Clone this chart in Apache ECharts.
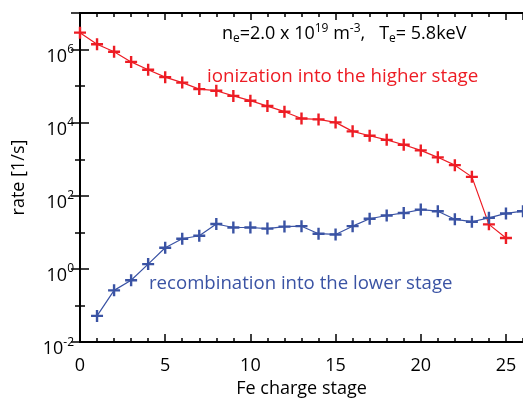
<!DOCTYPE html>
<html>
<head>
<meta charset="utf-8">
<script src="https://cdn.jsdelivr.net/npm/echarts@6/dist/echarts.min.js"></script>
<style>
  html, body { margin: 0; padding: 0; background: #fff; }
  #chart { width: 523px; height: 403px; }
</style>
</head>
<body>
<div id="chart"></div>
<script>
// Fe charge stages and rates [1/s]
const ionStages = [0, 1, 2, 3, 4, 5, 6, 7, 8, 9, 10, 11, 12, 13, 14, 15, 16, 17, 18, 19, 20, 21, 22, 23, 24, 25];
const ionizationRate = [2.9e6, 1.4e6, 8.7e5, 4.6e5, 2.8e5, 1.76e5, 1.25e5, 8.3e4, 7.5e4, 5.4e4,
  4.0e4, 2.85e4, 2.0e4, 1.3e4, 1.23e4, 1.02e4, 5.8e3, 4.4e3, 3.4e3, 2.5e3,
  1.75e3, 1.13e3, 690, 330, 16.6, 7.0];

const recStages = [1, 2, 3, 4, 5, 6, 7, 8, 9, 10, 11, 12, 13, 14, 15, 16, 17, 18, 19, 20, 21, 22, 23, 24, 25, 26];
const recombinationRate = [0.052, 0.26, 0.49, 1.36, 3.8, 6.7, 8.1, 17, 13.6, 13.6,
  12.7, 14.4, 14.8, 9.2, 8.8, 14.8, 23.6, 29, 34, 42,
  38, 22.8, 19.6, 25, 33, 38];

const xTickLabels = ['0', '5', '10', '15', '20', '25'];
const yTickExponents = [-2, 0, 2, 4, 6];

const RED = '#ED1C24';
const BLUE = '#3A53A4';
const FONT = '"Open Sans", sans-serif';
const PLUS = 'path://M4,0H6V4H10V6H6V10H4V6H0V4H4Z';

function pairs(xs, ys) { return xs.map((x, i) => [x, ys[i]]); }

const chart = echarts.init(document.getElementById('chart'), null, { renderer: 'canvas' });

function xAxisDef(position, interval, tickLen, withLabels, withLine) {
  return {
    type: 'value', position: position, min: 0, max: 26, interval: interval,
    axisLine: { show: withLine, onZero: false, lineStyle: { color: '#000', width: 2 } },
    axisTick: { show: true, inside: true, length: tickLen, lineStyle: { color: '#000', width: 1.5 } },
    splitLine: { show: false },
    axisLabel: withLabels ? {
      show: true, margin: 15, color: '#000', fontFamily: FONT, fontSize: 18,
      showMaxLabel: false,
      formatter: v => xTickLabels.indexOf(String(v)) >= 0 ? String(v) : ''
    } : { show: false }
  };
}

function yAxisDef(position, interval, tickLen, withLabels, withLine) {
  return {
    type: 'log', logBase: 10, position: position, min: 0.01, max: 1e7, interval: interval,
    axisLine: { show: withLine, lineStyle: { color: '#000', width: 2 } },
    axisTick: { show: true, inside: true, length: tickLen, lineStyle: { color: '#000', width: 1.5 } },
    splitLine: { show: false },
    axisLabel: withLabels ? {
      show: true, margin: 6, color: '#000', fontFamily: FONT,
      padding: [10, 0, 0, 0],
      showMaxLabel: false,
      formatter: v => {
        const e = Math.round(Math.log10(v));
        return yTickExponents.indexOf(e) >= 0 ? '{b|10}{s|' + e + '}' : '';
      },
      rich: {
        b: { fontSize: 18, fontFamily: FONT, color: '#000', lineHeight: 22, verticalAlign: 'bottom' },
        s: { fontSize: 12, fontFamily: FONT, color: '#000', lineHeight: 12, verticalAlign: 'top' }
      }
    } : { show: false }
  };
}

const xAxes = [
  xAxisDef('bottom', 5, 8, true, true),
  xAxisDef('bottom', 1, 4, false, false),
  xAxisDef('top', 5, 7, false, true),
  xAxisDef('top', 1, 4, false, false)
];
xAxes[0].name = 'Fe charge stage';
xAxes[0].nameLocation = 'middle';
xAxes[0].nameGap = 35;
xAxes[0].nameTextStyle = { fontFamily: FONT, fontSize: 18, color: '#000' };

const yAxes = [
  yAxisDef('left', 2, 9, true, true),
  yAxisDef('left', 1, 5, false, false),
  yAxisDef('right', 2, 9, false, true),
  yAxisDef('right', 1, 5, false, false)
];
yAxes[0].name = 'rate [1/s]';
yAxes[0].nameLocation = 'middle';
yAxes[0].nameGap = 52;
yAxes[0].nameRotate = 90;
yAxes[0].nameTextStyle = { fontFamily: FONT, fontSize: 18, color: '#000' };

const option = {
  animation: false,
  backgroundColor: '#fff',
  grid: { left: 80, top: 13, width: 447, height: 337, containLabel: false },
  xAxis: xAxes,
  yAxis: yAxes,
  series: [
    {
      name: 'ionization', type: 'line', xAxisIndex: 0, yAxisIndex: 0,
      data: pairs(ionStages, ionizationRate),
      symbol: PLUS, symbolSize: 12,
      itemStyle: { color: RED },
      lineStyle: { color: RED, width: 1.2 }
    },
    {
      name: 'recombination', type: 'line', xAxisIndex: 0, yAxisIndex: 0,
      data: pairs(recStages, recombinationRate),
      symbol: PLUS, symbolSize: 12,
      itemStyle: { color: BLUE },
      lineStyle: { color: BLUE, width: 1.2 }
    }
  ],
  graphic: [
    {
      type: 'text', left: 222, top: 23,
      style: {
        text: '{m|n}{sub|e}{m|=2.0 x 10}{sup|19}{m| m}{sup|-3}{m|,   T}{sub|e}{m|= 5.8keV}',
        rich: {
          m: { fontFamily: FONT, fontSize: 18, color: '#000', lineHeight: 22, verticalAlign: 'middle' },
          sub: { fontFamily: FONT, fontSize: 12, color: '#000', lineHeight: 12, verticalAlign: 'bottom' },
          sup: { fontFamily: FONT, fontSize: 12, color: '#000', lineHeight: 12, verticalAlign: 'top' }
        }
      }
    },
    {
      type: 'text', left: 207, top: 67,
      style: { text: 'ionization into the higher stage', fontFamily: FONT, fontSize: 18.8, fill: RED }
    },
    {
      type: 'text', left: 149, top: 274,
      style: { text: 'recombination into the lower stage', fontFamily: FONT, fontSize: 18.6, fill: BLUE }
    }
  ]
};

chart.setOption(option);
</script>
</body>
</html>
